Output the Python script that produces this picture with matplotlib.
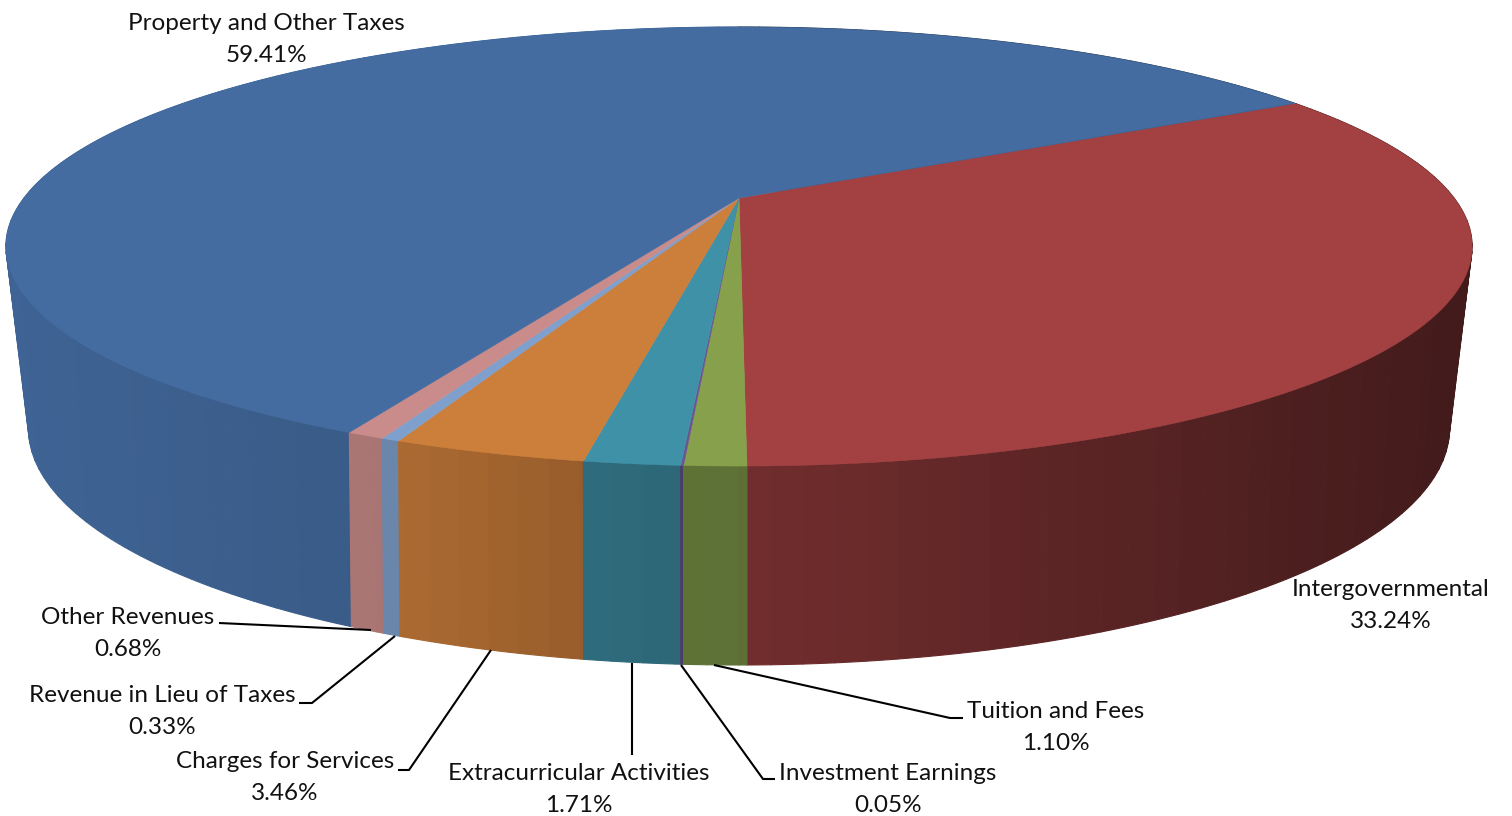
import numpy as np
import matplotlib
matplotlib.use("Agg")
import matplotlib.pyplot as plt
from matplotlib.collections import PolyCollection

# Revenue shares, in clockwise order from the first slice
categories = ["Intergovernmental", "Tuition and Fees", "Investment Earnings",
              "Extracurricular Activities", "Charges for Services",
              "Revenue in Lieu of Taxes", "Other Revenues", "Property and Other Taxes"]
shares = [33.24, 1.10, 0.05, 1.71, 3.46, 0.33, 0.68, 59.41]
slice_colors = ["#A34142", "#86A04C", "#6A5594", "#3F91A8",
                "#CC7E3B", "#7FA0CC", "#C98C8A", "#446CA1"]

# Label placement in pixels: centre x, y of name line, y of percent line
label_pos = [(1391, 590, 622), (1056, 712, 744), (888, 773, 805), (579, 773, 805),
             (285, 762, 794), (162, 696, 728), (128, 617, 649), (266, 23, 55)]
leaders = {
    "Tuition and Fees": [(963, 718), (950, 718), (714, 665)],
    "Investment Earnings": [(775, 779), (763, 779), (681, 665)],
    "Extracurricular Activities": [(632, 755), (632, 663)],
    "Charges for Services": [(398, 770), (409, 770), (491, 650)],
    "Revenue in Lieu of Taxes": [(299, 703), (312, 703), (395, 636)],
    "Other Revenues": [(219, 623), (371, 630)],
}

START_ANGLE = 59.84
CX = 739.0
TOP = dict(cy=198.0, a=715.0, b=208.8, k=0.221)
BOTTOM = dict(cy=369.0, a=688.0, b=222.0, k=0.25)
BAND = 2.0

# Side-wall brightness against the top colour, by clockwise angle
shade_angle = [0, 60, 90, 120, 140, 160, 180, 190, 200, 215, 230, 250, 270, 360]
shade_value = [.40, .40, .40, .42, .47, .57, .70, .74, .83, .87, .90, .92, .94, .94]


def project(theta_deg, disc):
    """Perspective projection of a rim point at a clockwise angle from the back."""
    t = np.radians(theta_deg)
    u, v = np.sin(t), -np.cos(t)
    w = 1 - disc["k"] * v
    return CX + disc["a"] * u / w, disc["cy"] + disc["b"] * v / w


def rgb(hex_color):
    return np.array(matplotlib.colors.to_rgb(hex_color))


fig = plt.figure(figsize=(15.12, 8.16), dpi=100, facecolor="white")
ax = fig.add_axes([0, 0, 1, 1])
ax.set_xlim(0, 1512)
ax.set_ylim(816, 0)
ax.axis("off")

edges = START_ANGLE + np.concatenate([[0], np.cumsum(shares)]) * 3.6

# Side wall: one polygon per shading band, painted back to front
side_bands = []
for i, color in enumerate(slice_colors):
    t = edges[i]
    while t < edges[i + 1] - 1e-9:
        t_end = min((np.floor(t / BAND + 1e-9) + 1) * BAND, edges[i + 1])
        arc = np.linspace(t, t_end, 5)
        tx, ty = project(arc, TOP)
        bx, by = project(arc[::-1], BOTTOM)
        poly = np.column_stack([np.r_[tx, bx], np.r_[ty, by]])
        mid = (t + t_end) / 2
        band_centre = (np.floor(mid / BAND) + 0.5) * BAND
        f = np.interp(band_centre % 360, shade_angle, shade_value)
        side_bands.append((-np.cos(np.radians(mid)), poly, rgb(color) * f))
        t = t_end
side_bands.sort(key=lambda q: q[0])
ax.add_collection(PolyCollection([q[1] for q in side_bands],
                                 facecolors=[q[2] for q in side_bands],
                                 edgecolors=[q[2] for q in side_bands],
                                 linewidths=0.8, zorder=2))

# Top face, with every wedge meeting at the projected centre
apex = (CX, TOP["cy"])
for i, color in enumerate(slice_colors):
    angles = np.linspace(edges[i], edges[i + 1], max(2, int((edges[i + 1] - edges[i]) * 2) + 2))
    xs, ys = project(angles, TOP)
    poly = [apex] + list(zip(xs, ys))
    ax.fill(*zip(*poly), facecolor=color, edgecolor=color, linewidth=0.4, zorder=3)

# Leader lines
for name, pts in leaders.items():
    ax.plot(*zip(*pts), color="black", lw=1.5, zorder=4, solid_capstyle="butt")

# Data labels
for name, share, (x, y1, y2) in zip(categories, shares, label_pos):
    ax.text(x, y1, name, ha="center", va="center", family="Lato", fontsize=17.5, color="#111111")
    ax.text(x, y2, f"{share:.2f}%", ha="center", va="center", family="Lato", fontsize=17.5, color="#111111")

fig.savefig("out.png", dpi=100, facecolor="white")
